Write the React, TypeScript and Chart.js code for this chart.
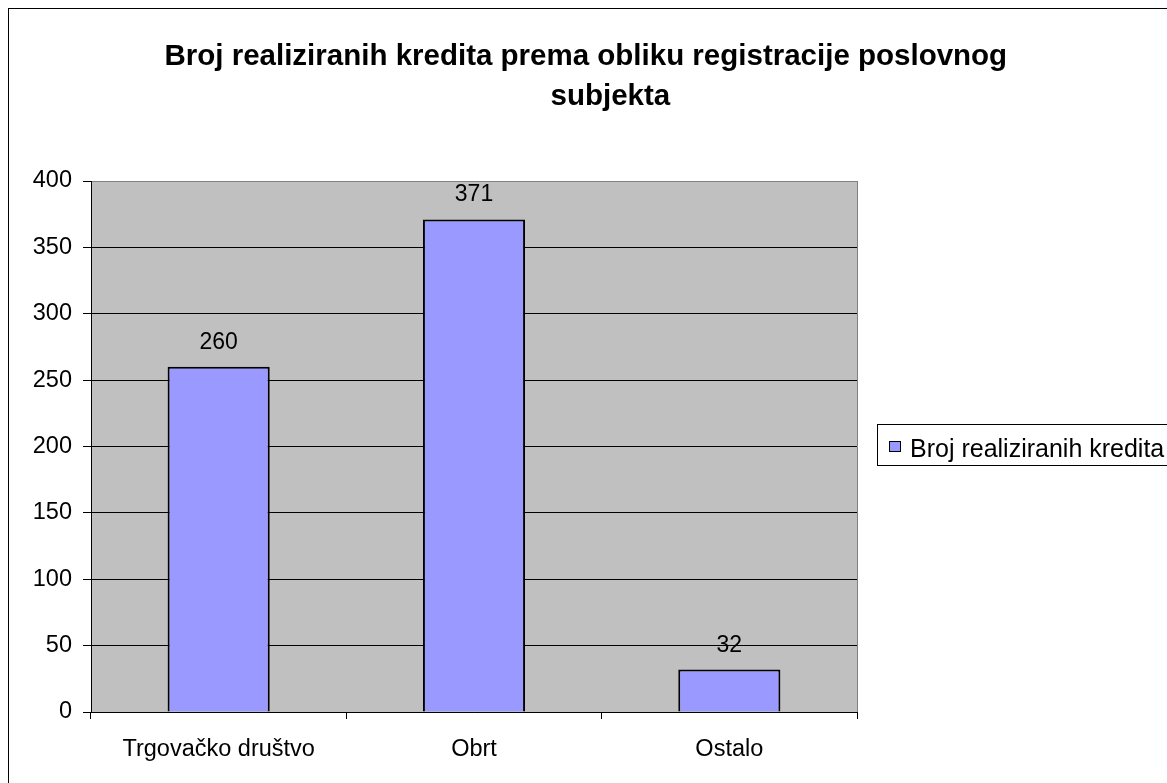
import React, { useEffect, useRef } from "react";
import { Chart, registerables } from "chart.js";

Chart.register(...registerables);

const categories = ["Trgovačko društvo", "Obrt", "Ostalo"];
const values = [260, 371, 32];
const seriesLabel = "Broj realiziranih kredita";
const titleLines = [
  "Broj realiziranih kredita prema obliku registracije poslovnog  ",
  "    subjekta",
];
const yMin = 0;
const yMax = 400;
const yStep = 50;

const FONT = 'Arial, "Liberation Sans", sans-serif';
const BAR_COLOR = "#9999FF";
const PLOT_BG = "#C0C0C0";
const PLOT_EDGE = "#808080";

const W = 1170;
const H = 790;

const plotBackground = {
  id: "plotBackground",
  beforeDraw(chart: any) {
    const { ctx, chartArea: a } = chart;
    ctx.save();
    ctx.fillStyle = PLOT_BG;
    ctx.fillRect(a.left, a.top, a.right - a.left, a.bottom - a.top);
    ctx.restore();
  },
  beforeDatasetsDraw(chart: any) {
    const { ctx, chartArea: a } = chart;
    ctx.save();
    ctx.strokeStyle = PLOT_EDGE;
    ctx.lineWidth = 1;
    ctx.beginPath();
    const x = Math.round(a.right) + 0.5;
    ctx.moveTo(x, a.top);
    ctx.lineTo(x, a.bottom);
    ctx.stroke();
    ctx.restore();
  },
};

const valueLabels = {
  id: "valueLabels",
  afterDatasetsDraw(chart: any) {
    const { ctx } = chart;
    const meta = chart.getDatasetMeta(0);
    const data = chart.data.datasets[0].data;
    ctx.save();
    ctx.fillStyle = "#000";
    ctx.font = `23px ${FONT}`;
    ctx.textAlign = "center";
    ctx.textBaseline = "alphabetic";
    meta.data.forEach((bar: any, i: number) => {
      ctx.fillText(String(data[i]), bar.x, bar.y - 18);
    });
    ctx.restore();
  },
};

const boxedLegend = {
  id: "boxedLegend",
  afterDraw(chart: any) {
    const { ctx, chartArea: a } = chart;
    const ds = chart.data.datasets[0];
    const left = a.right + 20;
    const top = 415;
    ctx.save();
    ctx.fillStyle = "#fff";
    ctx.fillRect(left, top, 320, 41);
    ctx.strokeStyle = "#000";
    ctx.lineWidth = 1;
    ctx.strokeRect(left + 0.5, top + 0.5, 320, 41);
    ctx.fillStyle = ds.backgroundColor;
    ctx.fillRect(left + 12, top + 17, 12, 11);
    ctx.strokeRect(left + 12.5, top + 17.5, 11, 10);
    ctx.fillStyle = "#000";
    ctx.font = `25px ${FONT}`;
    ctx.textAlign = "left";
    ctx.textBaseline = "alphabetic";
    ctx.fillText(ds.label, left + 33, top + 33);
    ctx.restore();
  },
};

export default function App() {
  const canvasRef = useRef<HTMLCanvasElement | null>(null);

  useEffect(() => {
    if (!canvasRef.current) return;
    const chart = new Chart(canvasRef.current, {
      type: "bar",
      data: {
        labels: categories,
        datasets: [
          {
            label: seriesLabel,
            data: values,
            backgroundColor: BAR_COLOR,
            borderColor: "#000",
            borderWidth: 2,
            barPercentage: 0.4,
            categoryPercentage: 1,
            yAxisID: "y",
          },
        ],
      },
      options: {
        responsive: false,
        animation: false,
        devicePixelRatio: 1,
        layout: { padding: 0 },
        plugins: {
          legend: { display: false },
          tooltip: { enabled: false },
          title: {
            display: true,
            text: titleLines,
            color: "#000",
            font: { family: FONT, size: 29.5, weight: "bold", lineHeight: "40px" },
            padding: { top: 28, bottom: 64 },
          },
        },
        scales: {
          x: {
            type: "category",
            grid: {
              offset: true,
              drawOnChartArea: false,
              drawTicks: true,
              tickLength: 7,
              color: "#000",
            },
            border: { display: true, color: "#000", width: 1 },
            ticks: {
              color: "#000",
              font: { family: FONT, size: 23.5 },
              padding: 16,
              maxRotation: 0,
              autoSkip: false,
            },
            afterFit(scale: any) {
              scale.height = 87;
            },
          },
          y: {
            type: "linear",
            position: "left",
            min: yMin,
            max: yMax,
            grid: {
              color: (ctx: any) =>
                ctx.tick && ctx.tick.value === yMax ? PLOT_EDGE : "#000",
              tickColor: "#000",
              tickLength: 8,
              lineWidth: 1,
            },
            border: { display: true, color: "#000", width: 1 },
            ticks: {
              stepSize: yStep,
              color: "#000",
              font: { family: FONT, size: 23.5 },
              padding: 11,
            },
            afterFit(scale: any) {
              scale.width = 82;
            },
          },
          legendSpace: {
            type: "linear",
            position: "right",
            display: true,
            grid: { display: false, drawTicks: false },
            border: { display: false },
            ticks: { display: false },
            afterFit(scale: any) {
              scale.width = 322;
            },
          },
        },
      } as any,
      plugins: [plotBackground, valueLabels, boxedLegend],
    });
    return () => chart.destroy();
  }, []);

  return (
    <div
      style={{
        position: "fixed",
        left: 8,
        top: 8,
        width: W,
        height: H,
        border: "1px solid #000",
        background: "#fff",
        overflow: "hidden",
      }}
    >
      <canvas
        ref={canvasRef}
        width={W}
        height={H}
        style={{ display: "block", width: W, height: H }}
      />
    </div>
  );
}
